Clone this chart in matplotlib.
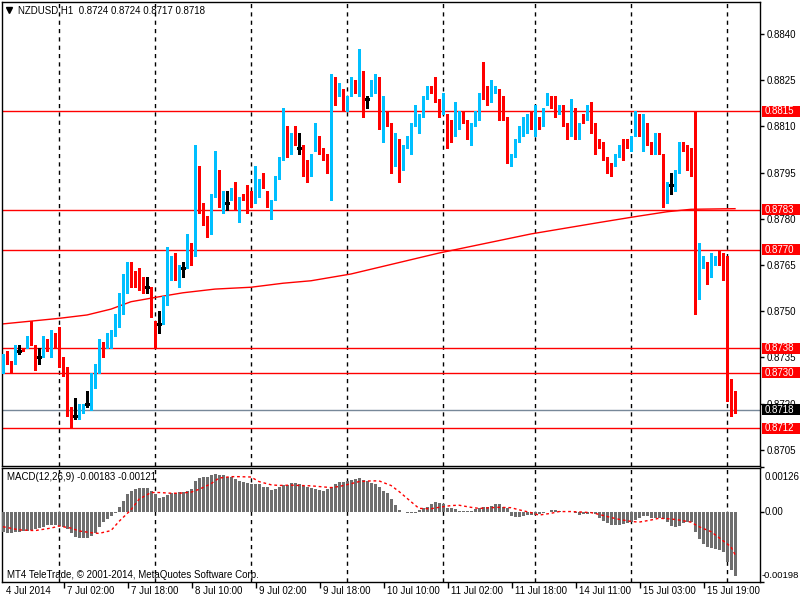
#Draw NZDUSD H1 chart with MACD pane (MT4 style)

import numpy as np
import matplotlib
matplotlib.use("Agg")
import matplotlib.pyplot as plt
from matplotlib.patches import Rectangle

plt.rcParams['font.family'] = ['Liberation Sans', 'DejaVu Sans']

# hourly candles, 4 Jul 2014 10:00 .. 16 Jul 2014 02:00
opens = [
    0.8730, 0.8734, 0.8734, 0.8734, 0.8737, 0.8738, 0.8738, 0.8740, 0.8738, 0.8735, 0.8736, 0.8738,
    0.8738, 0.8741, 0.8743, 0.8735, 0.8731, 0.8719, 0.8716, 0.8717, 0.8717, 0.8720, 0.8721, 0.8727,
    0.8730, 0.8740, 0.8738, 0.8740, 0.8742, 0.8745, 0.8753, 0.8756, 0.8766, 0.8763, 0.8763, 0.8760,
    0.8758, 0.8757, 0.8747, 0.8746, 0.8747, 0.8753, 0.8762, 0.8768, 0.8761, 0.8764, 0.8764, 0.8771,
    0.8768, 0.8797, 0.8781, 0.8781, 0.8781, 0.8787, 0.8795, 0.8785, 0.8785, 0.8786, 0.8790, 0.8784,
    0.8787, 0.8787, 0.8786, 0.8785, 0.8791, 0.8791, 0.8789, 0.8783, 0.8786, 0.8793, 0.8799, 0.8806,
    0.8802, 0.8806, 0.8803, 0.8804, 0.8796, 0.8796, 0.8802, 0.8807, 0.8803, 0.8801, 0.8799, 0.8825,
    0.8820, 0.8822, 0.8817, 0.8820, 0.8823, 0.8822, 0.8828, 0.8819, 0.8820, 0.8824, 0.8826, 0.8808,
    0.8815, 0.8811, 0.8797, 0.8800, 0.8796, 0.8803, 0.8804, 0.8810, 0.8811, 0.8813, 0.8819, 0.8822,
    0.8822, 0.8819, 0.8814, 0.8814, 0.8808, 0.8807, 0.8811, 0.8814, 0.8812, 0.8808, 0.8810, 0.8815,
    0.8822, 0.8820, 0.8818, 0.8821, 0.8821, 0.8820, 0.8813, 0.8799, 0.8800, 0.8805, 0.8808, 0.8811,
    0.8813, 0.8811, 0.8812, 0.8810, 0.8817, 0.8818, 0.8817, 0.8814, 0.8815, 0.8811, 0.8807, 0.8813,
    0.8808, 0.8812, 0.8812, 0.8815, 0.8811, 0.8804, 0.8802, 0.8800, 0.8797, 0.8797, 0.8801, 0.8805,
    0.8805, 0.8802, 0.8808, 0.8810, 0.8808, 0.8810, 0.8805, 0.8803, 0.8808, 0.8800, 0.8785, 0.8791,
    0.8792, 0.8795, 0.8804, 0.8801, 0.8799, 0.8798, 0.8760, 0.8764, 0.8764, 0.8762, 0.8765, 0.8767,
    0.8767, 0.8760, 0.8726, 0.8724]
highs = [
    0.8736, 0.8737, 0.8734, 0.8739, 0.8739, 0.8738, 0.8742, 0.8747, 0.8739, 0.8738, 0.8742, 0.8741,
    0.8744, 0.8743, 0.8745, 0.8735, 0.8732, 0.8719, 0.8722, 0.8720, 0.8720, 0.8724, 0.8730, 0.8733,
    0.8741, 0.8740, 0.8743, 0.8744, 0.8749, 0.8756, 0.8762, 0.8766, 0.8766, 0.8763, 0.8764, 0.8761,
    0.8761, 0.8758, 0.8747, 0.8750, 0.8755, 0.8771, 0.8768, 0.8769, 0.8765, 0.8766, 0.8775, 0.8772,
    0.8804, 0.8797, 0.8785, 0.8781, 0.8788, 0.8802, 0.8796, 0.8789, 0.8789, 0.8790, 0.8792, 0.8787,
    0.8788, 0.8791, 0.8789, 0.8797, 0.8793, 0.8795, 0.8789, 0.8786, 0.8794, 0.8800, 0.8816, 0.8810,
    0.8808, 0.8810, 0.8808, 0.8804, 0.8799, 0.8801, 0.8811, 0.8807, 0.8803, 0.8801, 0.8827, 0.8826,
    0.8824, 0.8822, 0.8820, 0.8826, 0.8825, 0.8835, 0.8828, 0.8820, 0.8825, 0.8827, 0.8826, 0.8820,
    0.8815, 0.8811, 0.8808, 0.8806, 0.8804, 0.8807, 0.8811, 0.8817, 0.8814, 0.8820, 0.8823, 0.8823,
    0.8826, 0.8819, 0.8821, 0.8814, 0.8812, 0.8818, 0.8815, 0.8815, 0.8812, 0.8811, 0.8815, 0.8821,
    0.8831, 0.8823, 0.8825, 0.8823, 0.8822, 0.8820, 0.8813, 0.8801, 0.8806, 0.8810, 0.8813, 0.8814,
    0.8815, 0.8817, 0.8813, 0.8816, 0.8821, 0.8820, 0.8820, 0.8817, 0.8817, 0.8811, 0.8819, 0.8816,
    0.8811, 0.8814, 0.8817, 0.8818, 0.8811, 0.8806, 0.8805, 0.8800, 0.8798, 0.8801, 0.8804, 0.8806,
    0.8806, 0.8807, 0.8815, 0.8814, 0.8814, 0.8811, 0.8805, 0.8808, 0.8808, 0.8801, 0.8792, 0.8795,
    0.8796, 0.8805, 0.8805, 0.8804, 0.8803, 0.8815, 0.8772, 0.8768, 0.8766, 0.8769, 0.8768, 0.8770,
    0.8769, 0.8768, 0.8728, 0.8724]
lows = [
    0.8730, 0.8733, 0.8730, 0.8733, 0.8736, 0.8737, 0.8738, 0.8739, 0.8731, 0.8733, 0.8735, 0.8737,
    0.8735, 0.8738, 0.8732, 0.8729, 0.8716, 0.8712, 0.8715, 0.8715, 0.8717, 0.8719, 0.8718, 0.8725,
    0.8730, 0.8735, 0.8738, 0.8738, 0.8742, 0.8745, 0.8749, 0.8756, 0.8758, 0.8758, 0.8757, 0.8756,
    0.8756, 0.8748, 0.8738, 0.8743, 0.8746, 0.8752, 0.8760, 0.8760, 0.8758, 0.8761, 0.8764, 0.8765,
    0.8768, 0.8782, 0.8778, 0.8774, 0.8775, 0.8787, 0.8784, 0.8782, 0.8783, 0.8786, 0.8783, 0.8779,
    0.8786, 0.8782, 0.8784, 0.8785, 0.8787, 0.8790, 0.8784, 0.8780, 0.8786, 0.8793, 0.8799, 0.8800,
    0.8801, 0.8804, 0.8801, 0.8794, 0.8792, 0.8794, 0.8802, 0.8801, 0.8799, 0.8795, 0.8786, 0.8817,
    0.8820, 0.8815, 0.8815, 0.8820, 0.8821, 0.8820, 0.8813, 0.8816, 0.8820, 0.8821, 0.8809, 0.8805,
    0.8810, 0.8795, 0.8797, 0.8792, 0.8796, 0.8803, 0.8801, 0.8810, 0.8808, 0.8813, 0.8819, 0.8821,
    0.8818, 0.8813, 0.8814, 0.8803, 0.8805, 0.8807, 0.8809, 0.8811, 0.8806, 0.8804, 0.8810, 0.8812,
    0.8819, 0.8817, 0.8818, 0.8821, 0.8812, 0.8812, 0.8798, 0.8797, 0.8800, 0.8805, 0.8807, 0.8808,
    0.8809, 0.8807, 0.8809, 0.8810, 0.8817, 0.8816, 0.8813, 0.8814, 0.8810, 0.8806, 0.8807, 0.8806,
    0.8806, 0.8811, 0.8812, 0.8808, 0.8801, 0.8803, 0.8799, 0.8795, 0.8794, 0.8797, 0.8800, 0.8799,
    0.8803, 0.8802, 0.8807, 0.8807, 0.8802, 0.8804, 0.8801, 0.8801, 0.8801, 0.8784, 0.8785, 0.8788,
    0.8789, 0.8795, 0.8802, 0.8796, 0.8794, 0.8749, 0.8754, 0.8764, 0.8759, 0.8761, 0.8765, 0.8765,
    0.8760, 0.8721, 0.8716, 0.8717]
closes = [
    0.8735, 0.8733, 0.8733, 0.8738, 0.8737, 0.8737, 0.8741, 0.8739, 0.8734, 0.8735, 0.8739, 0.8737,
    0.8740, 0.8738, 0.8734, 0.8732, 0.8718, 0.8715, 0.8716, 0.8718, 0.8719, 0.8720, 0.8728, 0.8731,
    0.8741, 0.8737, 0.8741, 0.8741, 0.8746, 0.8754, 0.8758, 0.8765, 0.8762, 0.8759, 0.8758, 0.8757,
    0.8758, 0.8748, 0.8745, 0.8746, 0.8752, 0.8761, 0.8767, 0.8760, 0.8765, 0.8764, 0.8770, 0.8769,
    0.8796, 0.8782, 0.8780, 0.8777, 0.8788, 0.8796, 0.8784, 0.8786, 0.8785, 0.8789, 0.8783, 0.8786,
    0.8786, 0.8785, 0.8784, 0.8792, 0.8792, 0.8790, 0.8784, 0.8785, 0.8794, 0.8800, 0.8805, 0.8801,
    0.8807, 0.8804, 0.8803, 0.8797, 0.8795, 0.8801, 0.8806, 0.8802, 0.8800, 0.8798, 0.8826, 0.8818,
    0.8821, 0.8818, 0.8820, 0.8824, 0.8821, 0.8829, 0.8820, 0.8819, 0.8823, 0.8825, 0.8809, 0.8811,
    0.8810, 0.8798, 0.8801, 0.8797, 0.8802, 0.8805, 0.8811, 0.8811, 0.8812, 0.8820, 0.8821, 0.8821,
    0.8818, 0.8815, 0.8815, 0.8809, 0.8806, 0.8810, 0.8813, 0.8811, 0.8809, 0.8811, 0.8814, 0.8821,
    0.8819, 0.8817, 0.8820, 0.8822, 0.8819, 0.8812, 0.8800, 0.8801, 0.8806, 0.8807, 0.8812, 0.8812,
    0.8812, 0.8813, 0.8809, 0.8816, 0.8819, 0.8816, 0.8814, 0.8816, 0.8810, 0.8808, 0.8812, 0.8807,
    0.8811, 0.8811, 0.8816, 0.8812, 0.8803, 0.8803, 0.8799, 0.8798, 0.8796, 0.8800, 0.8804, 0.8804,
    0.8803, 0.8807, 0.8809, 0.8809, 0.8811, 0.8804, 0.8802, 0.8807, 0.8801, 0.8786, 0.8792, 0.8791,
    0.8794, 0.8803, 0.8802, 0.8800, 0.8797, 0.8761, 0.8765, 0.8765, 0.8763, 0.8766, 0.8768, 0.8766,
    0.8761, 0.8727, 0.8725, 0.8718]

# moving average (red line), sampled at a few bars
ma_bars = [0, 14, 21, 27, 32, 39, 45, 53, 62, 70, 77, 87, 109, 132, 149, 158, 166, 172, 183]
ma_vals = [0.87459, 0.87477, 0.87488, 0.87507, 0.87531, 0.87547, 0.87560, 0.87572, 0.87578,
           0.87591, 0.87599, 0.87621, 0.87689, 0.87751, 0.87788, 0.87807, 0.87823, 0.87831, 0.87833]

# MACD main (histogram) per bar
macd = np.array([
    -56, -61, -59, -56, -56, -53, -53, -51, -49, -46, -42, -38,
    -37, -38, -40, -42, -48, -61, -70, -73, -73, -73, -68, -59,
    -42, -30, -21, -11, -4, 15, 31, 50, 58, 64, 68, 68,
    68, 60, 50, 40, 42, 48, 53, 55, 57, 57, 58, 65,
    89, 96, 99, 99, 104, 108, 106, 106, 100, 99, 93, 88,
    85, 81, 79, 79, 79, 72, 70, 61, 64, 72, 75, 77,
    81, 81, 80, 74, 70, 67, 65, 63, 60, 64, 72, 80,
    84, 84, 88, 91, 94, 96, 91, 87, 83, 80, 72, 60,
    53, 38, 20, 6, -1, -2, -4, -2, 6, 10, 15, 22,
    27, 25, 22, 10, 10, 8, 4, 3, 3, 4, 8, 10,
    14, 15, 18, 23, 23, 15, 10, -13, -15, -15, -13, -10,
    -9, -10, -6, -4, 1, 5, 6, 4, 1, -1, -1, -4,
    -9, -6, -6, -4, -7, -16, -26, -32, -37, -37, -37, -35,
    -32, -29, -23, -16, -11, -13, -16, -16, -16, -20, -29, -40,
    -42, -39, -32, -29, -29, -56, -77, -91, -99, -103, -106, -108,
    -113, -142, -164, -183]) * 1e-5

# MACD signal (red dotted), sampled
sig_bars = [0, 4, 8, 12, 14, 17, 19, 22, 24, 27, 29, 32, 34, 37, 39, 42, 44, 47, 49, 52, 54, 57,
            59, 62, 64, 67, 69, 72, 74, 77, 79, 82, 84, 87, 89, 92, 94, 97, 99, 102, 104, 107,
            109, 112, 114, 117, 119, 122, 124, 127, 129, 132, 134, 137, 139, 142, 144, 147, 149,
            152, 154, 157, 159, 162, 164, 167, 169, 172, 174, 177, 179, 182, 183]
sig_vals = np.array([-42, -51, -53, -46, -40, -46, -54, -59, -61, -53, -27, 6, 36, 55, 55, 53, 53,
                     56, 64, 80, 96, 100, 100, 99, 86, 77, 75, 76, 75, 74, 72, 69, 72, 80, 86, 88,
                     88, 75, 58, 29, 10, 9, 13, 18, 19, 13, 10, 12, 13, 12, 6, -2, -9, -4, 1, 1, 0,
                     -2, -7, -16, -21, -27, -29, -23, -18, -20, -23, -29, -42, -56, -73, -99, -121]) * 1e-5

levels = [0.8815, 0.8783, 0.8770, 0.8738, 0.8730, 0.8712]
bid = 0.8718
price_ticks = [0.8705, 0.8720, 0.8735, 0.8750, 0.8765, 0.8780, 0.8795, 0.8810, 0.8825, 0.8840]
day_starts = [14, 38, 62, 86, 110, 133, 157, 181]
time_bars = [0, 16, 32, 48, 64, 80, 96, 112, 128, 144, 160, 176]
time_labels = ['4 Jul 2014', '7 Jul 02:00', '7 Jul 18:00', '8 Jul 10:00', '9 Jul 02:00',
               '9 Jul 18:00', '10 Jul 10:00', '11 Jul 02:00', '11 Jul 18:00', '14 Jul 11:00',
               '15 Jul 03:00', '15 Jul 19:00']

BULL = '#00BFFF'
BEAR = '#FF0000'
FS = 7

W, H = 800, 600
def box(x0, y0, x1, y1):
    return [x0 / W, 1 - y1 / H, (x1 - x0) / W, (y1 - y0) / H]

fig = plt.figure(figsize=(8, 6), dpi=100, facecolor='white')
ax = fig.add_axes(box(2, 2, 760, 465.5))
mx = fig.add_axes(box(2, 467.5, 760, 581.7))

o = np.array(opens); h = np.array(highs); l = np.array(lows); c = np.array(closes)
x = np.arange(len(o))
cols = np.where(c > o, BULL, np.where(c < o, BEAR, 'black'))

ax.vlines(x, l, h, colors=cols, linewidth=1, antialiased=False, zorder=3)
body = c != o
ax.bar(x[body], np.abs(c - o)[body], bottom=np.minimum(o, c)[body], width=0.75,
       color=cols[body], linewidth=0, antialiased=False, zorder=4)
doji = ~body
ax.hlines(o[doji], x[doji] - 0.4, x[doji] + 0.4, colors='black', linewidth=1,
          antialiased=False, zorder=4)

ax.plot(ma_bars, ma_vals, color='red', lw=1, zorder=2)
for lv in levels:
    ax.axhline(lv, color='red', lw=1, zorder=2)
ax.axhline(bid, color='#778899', lw=1, zorder=2)

for a in (ax, mx):
    for d in day_starts:
        a.axvline(d, color='black', lw=1, linestyle=(0, (3, 3)), zorder=1)
    a.set_xlim(-0.25, 189.25)
    for s in a.spines.values():
        s.set_linewidth(1)
        s.set_color('black')

ax.set_ylim(0.869994, 0.885038)
ax.set_xticks([])
ax.yaxis.tick_right()
ax.set_yticks(price_ticks)
ax.set_yticklabels(['%.4f' % t for t in price_ticks])
ax.tick_params(axis='y', length=3, width=1, pad=2, labelsize=FS)

# price boxes on the right
yr = ax.get_ylim()
px = (yr[1] - yr[0]) / 463.5
bh = 11 * px
tr = ax.get_yaxis_transform()
for lv, fc in [(v, 'red') for v in levels] + [(bid, 'black')]:
    ax.add_patch(Rectangle((1.0026, lv - bh / 2), 0.06, bh, transform=tr, clip_on=False,
                           facecolor=fc, edgecolor='none', zorder=10))
    ax.text(1.0066, lv, '%.4f' % lv, transform=tr, color='white', fontsize=FS,
            va='center', ha='left', zorder=11, clip_on=False)

ax.plot([0.0092], [0.9825], marker='v', ms=4, color='black', transform=ax.transAxes,
        clip_on=False)
ax.text(0.0211, 0.9825, 'NZDUSD,H1  0.8724 0.8724 0.8717 0.8718', transform=ax.transAxes,
        fontsize=FS, va='center', ha='left', color='black')

# MACD pane
mx.bar(x, macd, width=0.75, color='#6E6E6E', linewidth=0, antialiased=False, zorder=3)
mx.plot(sig_bars, sig_vals, color='red', lw=1, linestyle=(0, (2, 2)), zorder=4)
mx.set_ylim(-0.00198, 0.00126)
mx.yaxis.tick_right()
mx.set_yticks([0.00126, 0.0, -0.00198])
mx.set_yticklabels(['', '', ''])
mx.tick_params(axis='y', length=3, width=1)
mtr = mx.get_yaxis_transform()
mx.text(1.0066, 0.00100, '0.00126', transform=mtr, fontsize=FS, va='center', ha='left')
mx.text(1.0066, 0.0, '0.00', transform=mtr, fontsize=FS, va='center', ha='left')
mx.text(1.0026, -0.00180, '-0.00198', transform=mtr, fontsize=6.8, va='center', ha='left')
mx.text(0.0066, 0.92, 'MACD(12,26,9) -0.00183 -0.00121', transform=mx.transAxes,
        fontsize=FS, va='center', ha='left')
mx.text(0.0066, 0.06, 'MT4 TeleTrade, \u00a9 2001-2014, MetaQuotes Software Corp.',
        transform=mx.transAxes, fontsize=FS, va='center', ha='left')

mx.set_xticks([b - 0.75 for b in time_bars[1:]])
mx.set_xticklabels([''] * (len(time_bars) - 1))
mx.tick_params(axis='x', length=4, width=1)
xtr = mx.get_xaxis_transform()
for b, lab in zip(time_bars, time_labels):
    mx.text(b + (0.75 if b == 0 else 0), -0.081, lab, transform=xtr, fontsize=FS,
            va='center', ha='left', clip_on=False)

fig.savefig('out.png', dpi=100, facecolor='white')
